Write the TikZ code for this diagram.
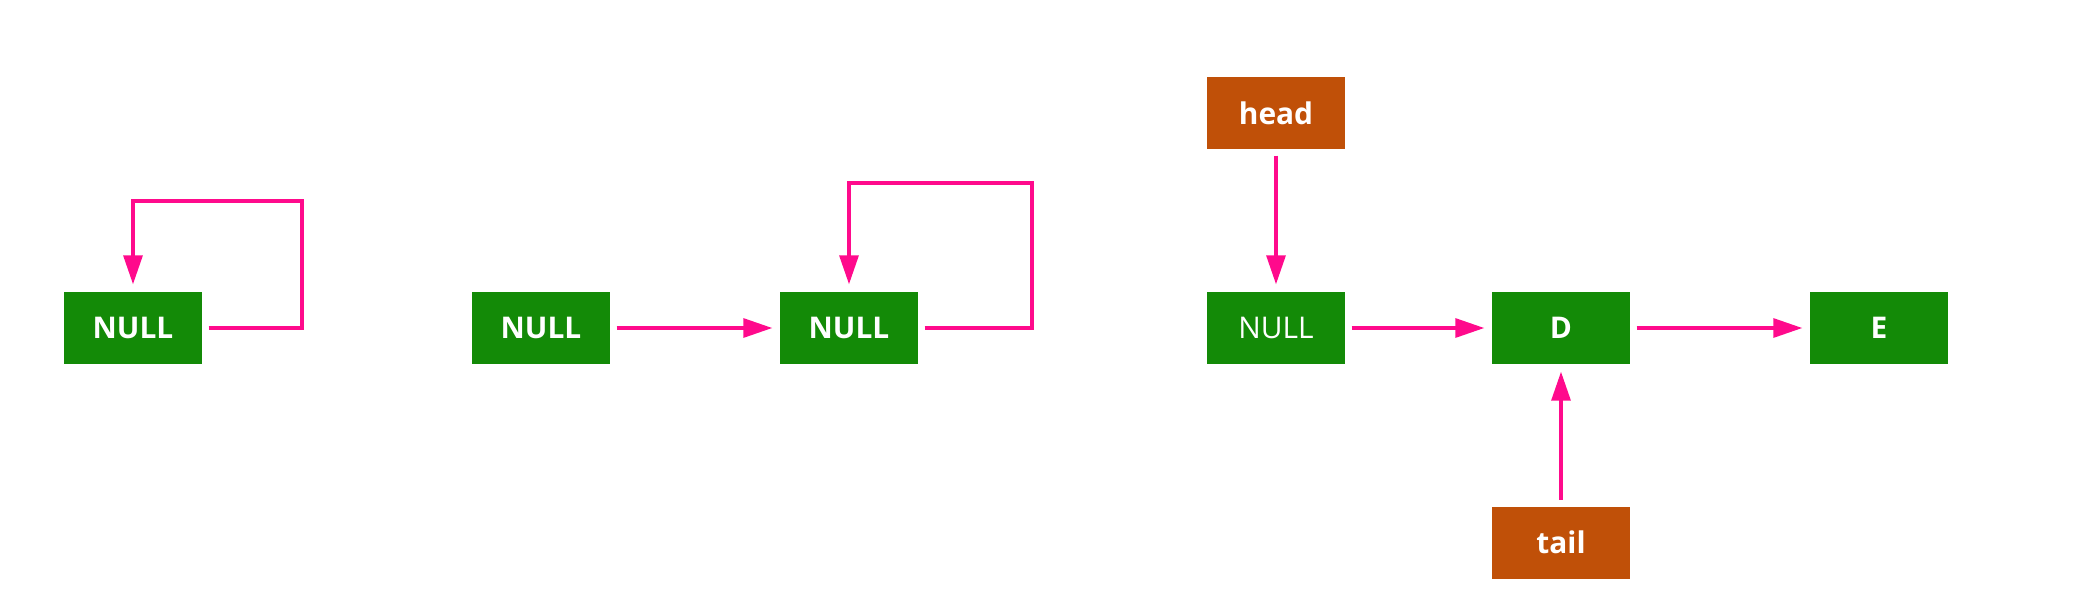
\documentclass[tikz,border=0pt]{standalone}
\usepackage{fontspec}
\setmainfont{Open Sans}
\usetikzlibrary{arrows.meta,calc}
\definecolor{nodegreen}{RGB}{19,138,7}
\definecolor{ptrbrown}{RGB}{192,80,8}
\definecolor{linkpink}{RGB}{255,10,140}
\tikzset{
  elem/.style={rectangle,fill=nodegreen,text=white,minimum width=1.38cm,minimum height=0.72cm,inner sep=0pt,font=\fontsize{8.5}{10}\selectfont\bfseries},
  ptr/.style={elem,fill=ptrbrown},
  link/.style={->,linkpink,line width=0.9pt,shorten <=0.06cm,shorten >=0.07cm}
}
\begin{document}
\begin{tikzpicture}[>={Triangle[length=0.29cm,width=0.19cm]}]
  \useasboundingbox (0,0) rectangle (20.78,5.88);
  % empty list
  \node[elem] (n1) at (1.33,2.60) {NULL};
  \draw[link] (n1.east) -- (3.02,2.60) |- (1.33,3.87) -- (n1.north);
  % one element
  \node[elem] (n2) at (5.41,2.60) {NULL};
  \node[elem] (n3) at (8.49,2.60) {NULL};
  \draw[link] (n2) -- (n3);
  \draw[link] (n3.east) -- (10.32,2.60) |- (8.49,4.05) -- (n3.north);
  % head and tail
  \node[ptr] (head) at (12.76,4.75) {head};
  \node[elem,font=\fontsize{8.5}{10}\selectfont] (n4) at (12.76,2.60) {NULL};
  \node[elem] (d) at (15.61,2.60) {D};
  \node[elem] (e) at (18.79,2.60) {E};
  \node[ptr] (tail) at (15.61,0.455) {tail};
  \draw[link] (head) -- (n4);
  \draw[link] (n4) -- (d);
  \draw[link] (d) -- (e);
  \draw[link] (tail) -- (d);
\end{tikzpicture}
\end{document}
